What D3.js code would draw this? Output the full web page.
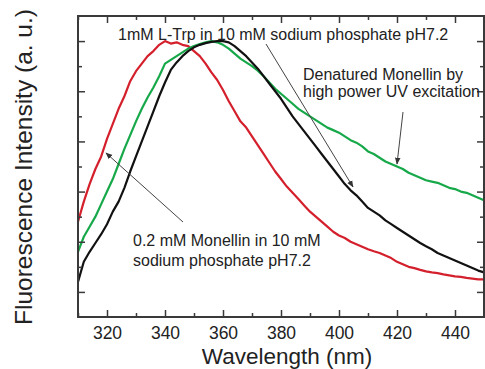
<!DOCTYPE html>
<html><head><meta charset="utf-8">
<script src="https://cdn.jsdelivr.net/npm/d3@7"></script>
<style>
html,body{margin:0;padding:0;background:#fff;}
svg{display:block;font-family:"Liberation Sans",Arial,Helvetica,sans-serif;}
</style></head>
<body>
<svg id="chart" width="485" height="369"></svg>
<script>
const wavelengths = d3.range(310, 451, 2);
const redMonellin = [3.8,4.6,5.3,5.9,6.4,7.1,7.7,8.3,8.8,9.4,9.8,10.1,10.4,10.6,10.85,11.0,10.9,10.95,10.85,10.8,10.6,10.4,10.1,9.75,9.45,9.05,8.6,8.2,7.8,7.55,7.2,6.85,6.5,6.15,5.8,5.5,5.2,4.95,4.7,4.45,4.2,4.0,3.8,3.6,3.4,3.25,3.15,3.0,2.9,2.8,2.7,2.62,2.55,2.45,2.35,2.2,2.1,2.0,1.95,1.88,1.82,1.78,1.75,1.7,1.66,1.62,1.6,1.56,1.53,1.5,1.5];
const greenDenatured = [2.6,3.2,3.6,4.0,4.5,5.0,5.5,6.1,6.7,7.25,7.8,8.3,8.75,9.15,9.6,10.1,10.25,10.4,10.55,10.7,10.8,10.88,10.95,11.0,10.95,10.85,10.7,10.5,10.3,10.15,10.0,9.82,9.6,9.35,9.1,8.9,8.7,8.5,8.3,8.15,8.0,7.85,7.7,7.55,7.45,7.35,7.2,7.05,6.95,6.8,6.6,6.5,6.35,6.2,6.1,6.0,5.9,5.75,5.65,5.55,5.45,5.4,5.35,5.25,5.15,5.1,5.0,4.95,4.85,4.75,4.65];
const blackTrp = [1.4,2.2,2.6,2.95,3.3,3.7,4.2,4.6,5.15,5.8,6.4,7.0,7.6,8.2,8.8,9.35,9.85,10.15,10.4,10.6,10.75,10.85,10.92,10.97,11.0,11.0,10.95,10.8,10.6,10.4,10.15,9.9,9.6,9.3,9.0,8.7,8.35,8.0,7.7,7.4,7.1,6.8,6.5,6.2,5.9,5.6,5.3,5.05,4.85,4.6,4.35,4.2,4.05,3.85,3.7,3.55,3.4,3.25,3.1,2.95,2.82,2.7,2.55,2.45,2.35,2.25,2.15,2.05,1.95,1.85,1.78];
const xMajorTicks = [320,340,360,380,400,420,440];
const xMinorTicks = [310,330,350,370,390,410,430,450];
const yMajorTicks = [1,3,5,7,9,11];
const yMinorTicks = [2,4,6,8,10];

const svg = d3.select("#chart");
const L=78, R=484, T=16, B=317;
const x = d3.scaleLinear().domain([310,450]).range([L,R]);
const y = d3.scaleLinear().domain([0,12]).range([B,T]);
const axisColor = "#3a3a3a";

// curves
const line = d3.line().x((d,i)=>x(wavelengths[i])).y(d=>y(d));
const series = [
  {v: redMonellin, c:"#d4202c"},
  {v: greenDenatured, c:"#17a84a"},
  {v: blackTrp, c:"#111111"}
];
svg.append("g").selectAll("path").data(series).join("path")
  .attr("d", d=>line(d.v)).attr("fill","none").attr("stroke", d=>d.c)
  .attr("stroke-width",2.2).attr("stroke-linejoin","round");

// axes
function styleAxis(g){
  g.select(".domain").remove();
  g.selectAll(".tick line").attr("stroke",axisColor).attr("stroke-width",1.5);
  g.selectAll(".tick text").attr("fill","#222").attr("font-size",17.5);
}
svg.append("g").attr("transform",`translate(0,${B})`)
  .call(d3.axisBottom(x).tickValues(xMajorTicks).tickSize(-7).tickPadding(10).tickFormat(d3.format("d")))
  .call(styleAxis).attr("font-family",null);
svg.append("g").attr("transform",`translate(0,${B})`)
  .call(d3.axisBottom(x).tickValues(xMinorTicks).tickSize(-4).tickFormat(""))
  .call(styleAxis);
svg.append("g").attr("transform",`translate(0,${T})`)
  .call(d3.axisTop(x).tickValues(xMajorTicks).tickSize(-7).tickFormat(""))
  .call(styleAxis);
svg.append("g").attr("transform",`translate(0,${T})`)
  .call(d3.axisTop(x).tickValues(xMinorTicks).tickSize(-4).tickFormat(""))
  .call(styleAxis);
svg.append("g").attr("transform",`translate(${L},0)`)
  .call(d3.axisLeft(y).tickValues(yMajorTicks).tickSize(-7).tickFormat(""))
  .call(styleAxis);
svg.append("g").attr("transform",`translate(${L},0)`)
  .call(d3.axisLeft(y).tickValues(yMinorTicks).tickSize(-4).tickFormat(""))
  .call(styleAxis);
svg.append("g").attr("transform",`translate(${R},0)`)
  .call(d3.axisRight(y).tickValues(yMajorTicks).tickSize(-7).tickFormat(""))
  .call(styleAxis);
svg.append("g").attr("transform",`translate(${R},0)`)
  .call(d3.axisRight(y).tickValues(yMinorTicks).tickSize(-4).tickFormat(""))
  .call(styleAxis);

// frame
svg.append("rect").attr("x",L).attr("y",T).attr("width",R-L).attr("height",B-T)
  .attr("fill","none").attr("stroke",axisColor).attr("stroke-width",2);

// axis titles
svg.append("text").attr("x",287).attr("y",364).attr("text-anchor","middle")
  .attr("font-size",22.5).attr("fill","#222").text("Wavelength (nm)");
svg.append("text").attr("transform","translate(32,167) rotate(-90)").attr("text-anchor","middle")
  .attr("font-size",24.5).attr("fill","#222").text("Fluorescence Intensity (a. u.)");

// annotations
const defs = svg.append("defs");
defs.append("marker").attr("id","arr").attr("viewBox","0 0 10 10").attr("refX",9).attr("refY",5)
  .attr("markerWidth",7).attr("markerHeight",7).attr("orient","auto")
  .append("path").attr("d","M0,1 L10,5 L0,9 Z").attr("fill","#333");
function arrow(x1,y1,x2,y2){
  svg.append("line").attr("x1",x1).attr("y1",y1).attr("x2",x2).attr("y2",y2)
    .attr("stroke","#444").attr("stroke-width",1).attr("marker-end","url(#arr)");
}
const ann = svg.append("g").attr("font-size",16).attr("fill","#222");
ann.append("text").attr("x",118).attr("y",40).text("1mM L-Trp in 10 mM sodium phosphate pH7.2");
ann.append("text").attr("x",303).attr("y",80).text("Denatured Monellin by");
ann.append("text").attr("x",303).attr("y",97).text("high power UV excitation");
ann.append("text").attr("x",133).attr("y",246).text("0.2 mM Monellin in 10 mM");
ann.append("text").attr("x",133).attr("y",266).text("sodium phosphate pH7.2");
arrow(266,44,353,187);
arrow(403,112,397,164);
arrow(183,222,106,153);
</script>
</body></html>
